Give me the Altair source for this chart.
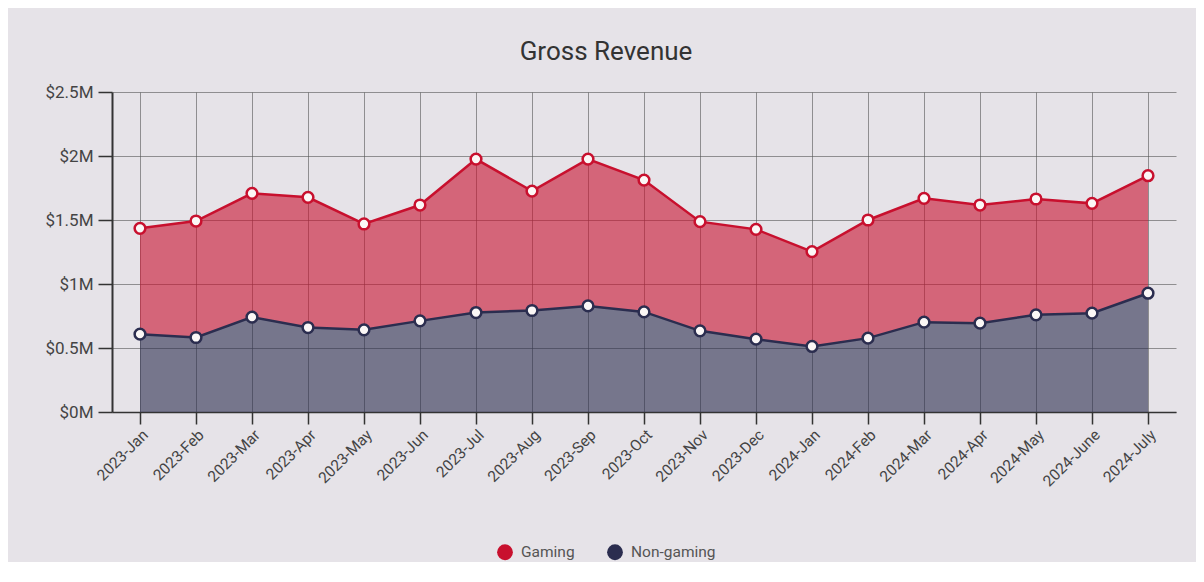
import altair as alt
import pandas as pd

months = ["2023-Jan", "2023-Feb", "2023-Mar", "2023-Apr", "2023-May", "2023-Jun",
          "2023-Jul", "2023-Aug", "2023-Sep", "2023-Oct", "2023-Nov", "2023-Dec",
          "2024-Jan", "2024-Feb", "2024-Mar", "2024-Apr", "2024-May", "2024-June",
          "2024-July"]
# Top line (Gaming, stacked on Non-gaming) in $M
gaming_top = [1.435, 1.492, 1.708, 1.677, 1.469, 1.617, 1.976, 1.726, 1.976, 1.812,
              1.487, 1.427, 1.253, 1.500, 1.669, 1.617, 1.664, 1.630, 1.846]
non_gaming = [0.608, 0.582, 0.741, 0.660, 0.642, 0.712, 0.777, 0.793, 0.829, 0.782,
              0.634, 0.569, 0.512, 0.577, 0.702, 0.694, 0.759, 0.772, 0.928]
series_names = ["Gaming", "Non-gaming"]
series_colors = ["#c8102e", "#2b2d4f"]
y_ticks = [0, 0.5, 1, 1.5, 2, 2.5]

rows = []
for m, g, n in zip(months, gaming_top, non_gaming):
    rows.append({"month": m, "series": "Gaming", "value": g, "base": n})
    rows.append({"month": m, "series": "Non-gaming", "value": n, "base": 0.0})
df = pd.DataFrame(rows)

FONT = "Roboto, sans-serif"
BG = "#e6e3e8"

x_enc = alt.X("month:O", sort=months, title=None,
              axis=alt.Axis(labelAngle=-45, grid=True, tickSize=12, labelFontSize=15.5,
                            labelColor="#444444", labelPadding=3, domainColor="#333333",
                            tickColor="#333333", gridColor="#555555", gridOpacity=0.6,
                            labelFont=FONT, domainWidth=1.5, tickWidth=1.5))
y_scale = alt.Scale(domain=[0, 2.5], nice=False)
y_axis = alt.Axis(values=y_ticks, labelExpr="'$' + datum.value + 'M'", tickSize=14,
                  labelFontSize=17, labelColor="#444444", labelPadding=5,
                  domainColor="#333333", tickColor="#333333", gridColor="#555555",
                  gridOpacity=0.6, labelFont=FONT, domainWidth=2, tickWidth=1.5)
color_scale = alt.Scale(domain=series_names, range=series_colors)

base = alt.Chart(df)

area = base.mark_area(opacity=0.6).encode(
    x=x_enc,
    y=alt.Y("value:Q", scale=y_scale, axis=y_axis, title=None),
    y2="base:Q",
    color=alt.Color("series:N", scale=color_scale, title=None,
                    legend=alt.Legend(orient="none", legendX=385, legendY=452,
                                      direction="horizontal", symbolType="circle",
                                      symbolSize=250, symbolOpacity=1,
                                      symbolStrokeWidth=0, labelFontSize=15.5,
                                      labelColor="#555555", labelFont=FONT,
                                      columnPadding=32, labelOffset=8)),
)

line = base.mark_line(strokeWidth=2.5).encode(
    x=x_enc,
    y=alt.Y("value:Q", scale=y_scale),
    color=alt.Color("series:N", scale=color_scale, legend=None),
)

points = base.mark_point(filled=True, size=115, fill="#fbf7f6", strokeWidth=2.5,
                         opacity=1).encode(
    x=x_enc,
    y=alt.Y("value:Q", scale=y_scale),
    stroke=alt.Stroke("series:N", scale=color_scale, legend=None),
)

chart = alt.layer(area, line, points).properties(
    width=1064, height=320,
    autosize=alt.AutoSizeParams(type="none"),
    padding={"left": 104, "top": 84, "right": 20, "bottom": 150},
    background=BG,
    title=alt.TitleParams("Gross Revenue", fontSize=26, font=FONT, fontWeight="normal",
                          color="#333333", anchor="middle", dx=-38, offset=18),
).configure_view(stroke=None)

chart.save("out.html", embed_options={"renderer": "svg", "actions": False})
